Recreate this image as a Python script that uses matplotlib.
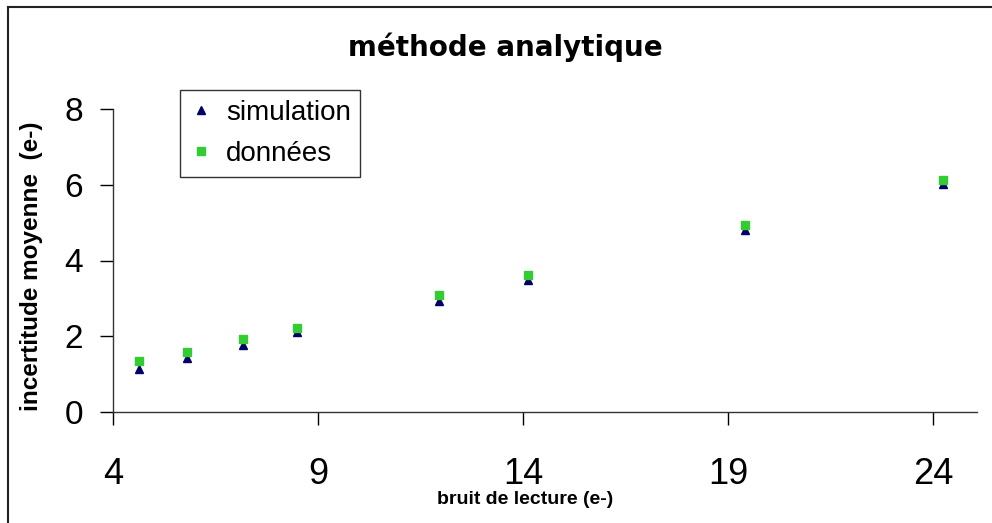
import matplotlib
matplotlib.use("Agg")
import matplotlib.pyplot as plt
from matplotlib.lines import Line2D

plt.rcParams['font.family'] = ['Liberation Sans', 'DejaVu Sans']

# Data
bruit = [4.64, 5.8, 7.17, 8.48, 11.96, 14.11, 19.41, 24.25]
simulation = [1.13, 1.43, 1.77, 2.10, 2.94, 3.48, 4.80, 6.02]
donnees = [1.35, 1.59, 1.92, 2.23, 3.09, 3.63, 4.93, 6.12]
xticks = [4, 9, 14, 19, 24]
yticks = [0, 2, 4, 6, 8]

fig = plt.figure(figsize=(9.92, 5.23), dpi=100)
ax = fig.add_axes([113/992, 1-412/523, (977-113)/992, (412-109)/523])

ax.plot(bruit, simulation, linestyle='none', marker='^', color='#000066',
        markersize=6, label='simulation')
ax.plot(bruit, donnees, linestyle='none', marker='s', color='#33CC33',
        markersize=5.5, label='données')

ax.set_xlim(4, 25.07)
ax.set_ylim(0, 8)
ax.set_xticks(xticks)
ax.set_yticks(yticks)
ax.tick_params(axis='x', labelsize=26, length=9.5, width=1, pad=23, direction='out')
ax.tick_params(axis='y', labelsize=24, length=9.5, width=1, pad=12, direction='out')
for s in ['top', 'right']:
    ax.spines[s].set_visible(False)
for s in ['left', 'bottom']:
    ax.spines[s].set_linewidth(1)
    ax.spines[s].set_color('#333333')

fig.text(505/992, 1-47/523, 'méthode analytique', ha='center', va='center',
         fontsize=20, fontweight='bold', family=['DejaVu Sans'])
fig.text(525/992, 1-500/523, 'bruit de lecture (e-)', ha='center', va='center',
         fontsize=14, fontweight='bold')
fig.text(32/992, 1-266/523, 'incertitude moyenne  (e-)', ha='center', va='center',
         rotation=90, fontsize=17.5, fontweight='bold')

leg = ax.legend(loc='upper left', bbox_to_anchor=((180-113)/864, 1-(90-109)/303),
                fontsize=20, frameon=True, fancybox=False, borderpad=0.35,
                handlelength=0.8, handletextpad=0.5, labelspacing=0.55,
                borderaxespad=0)
leg.get_frame().set_edgecolor('black')
leg.get_frame().set_linewidth(1)

# outer frame (top and left edges only, as in the reference)
fig.add_artist(Line2D([8/992, 1], [1-7/523, 1-7/523], transform=fig.transFigure,
                      color='#222222', linewidth=1.5))
fig.add_artist(Line2D([8/992, 8/992], [0, 1-7/523], transform=fig.transFigure,
                      color='#222222', linewidth=1.5))

fig.savefig('out.png', dpi=100)
